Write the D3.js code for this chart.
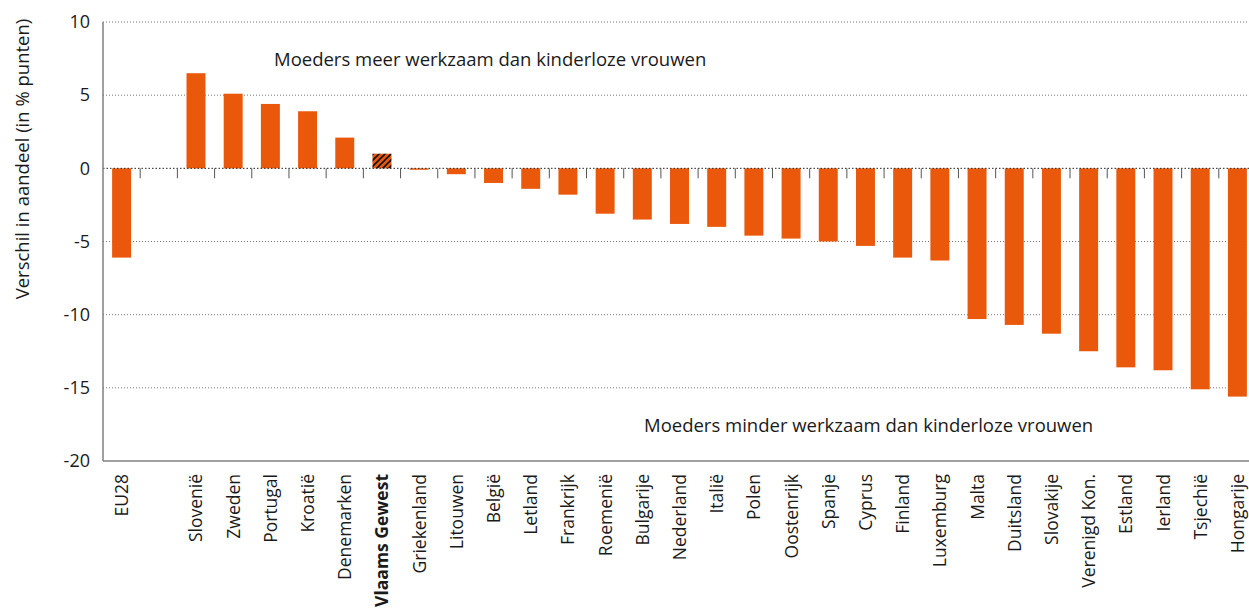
<!DOCTYPE html>
<html>
<head>
<meta charset="utf-8">
<script src="https://cdn.jsdelivr.net/npm/d3@7"></script>
<style>
  body { margin: 0; background: #fff; }
  text { font-family: "Open Sans", "DejaVu Sans", sans-serif; fill: #1a1a1a; }
</style>
</head>
<body>
<div id="chart"></div>
<script>
// categories (blank slot after EU28)
const categories = ["EU28", " ", "Slovenië", "Zweden", "Portugal", "Kroatië", "Denemarken", "Vlaams Gewest",
  "Griekenland", "Litouwen", "België", "Letland", "Frankrijk", "Roemenië", "Bulgarije", "Nederland",
  "Italië", "Polen", "Oostenrijk", "Spanje", "Cyprus", "Finland", "Luxemburg", "Malta", "Duitsland",
  "Slovakije", "Verenigd Kon.", "Estland", "Ierland", "Tsjechië", "Hongarije"];
const values = [-6.1, null, 6.5, 5.1, 4.4, 3.9, 2.1, 1.0,
  -0.1, -0.4, -1.0, -1.4, -1.8, -3.1, -3.5, -3.8,
  -4.0, -4.6, -4.8, -5.0, -5.3, -6.1, -6.3, -10.3, -10.7,
  -11.3, -12.5, -13.6, -13.8, -15.1, -15.6];
const yTicks = [10, 5, 0, -5, -10, -15, -20];
const highlight = "Vlaams Gewest";

const width = 1249, height = 608;
const margin = {top: 22, left: 103, bottom: 147, right: -7};
const iwidth = width - margin.left - margin.right;
const iheight = height - margin.top - margin.bottom;
const barColor = "#EA580C";

const svg = d3.select("#chart").append("svg")
  .attr("width", width).attr("height", height);

const defs = svg.append("defs");
const pat = defs.append("pattern").attr("id", "hatch")
  .attr("patternUnits", "userSpaceOnUse").attr("width", 6).attr("height", 6);
pat.append("rect").attr("width", 6).attr("height", 6).attr("fill", barColor);
pat.append("path").attr("d", "M-1,1 l2,-2 M0,6 l6,-6 M5,7 l2,-2")
  .attr("stroke", "#111").attr("stroke-width", 1.6);

const g = svg.append("g").attr("transform", `translate(${margin.left},${margin.top})`);

const y = d3.scaleLinear().domain([-20, 10]).range([iheight, 0]);
const x = d3.scaleBand().domain(categories).range([0, iwidth]).paddingInner(0.49).paddingOuter(0.245);

// gridlines
g.selectAll(".grid").data(yTicks.filter(d => d !== -20 && d !== 0)).enter().append("line")
  .attr("x1", 0).attr("x2", iwidth)
  .attr("y1", d => y(d)).attr("y2", d => y(d))
  .attr("stroke", "#777").attr("stroke-width", 1).attr("stroke-dasharray", "1,2");

// bars
g.selectAll("rect.bar").data(categories.map((c, i) => ({c, v: values[i]})).filter(d => d.v !== null))
  .enter().append("rect")
  .attr("class", "bar")
  .attr("x", d => x(d.c))
  .attr("width", x.bandwidth())
  .attr("y", d => y(Math.max(0, d.v)))
  .attr("height", d => Math.abs(y(d.v) - y(0)))
  .attr("fill", d => d.c === highlight ? "url(#hatch)" : barColor);

// zero line
g.append("line").attr("x1", 0).attr("x2", iwidth).attr("y1", y(0)).attr("y2", y(0))
  .attr("stroke", "#222").attr("stroke-width", 1).attr("stroke-dasharray", "1.5,2");

// category boundary ticks at zero
const step = x.step();
g.selectAll(".ctick").data(d3.range(1, categories.length)).enter().append("line")
  .attr("x1", d => d * step).attr("x2", d => d * step)
  .attr("y1", y(0)).attr("y2", y(0) + 10)
  .attr("stroke", "#555").attr("stroke-width", 1);

// axes frame
g.append("line").attr("x1", 0).attr("x2", 0).attr("y1", 0).attr("y2", iheight)
  .attr("stroke", "#808080").attr("stroke-width", 1.5);
g.append("line").attr("x1", 0).attr("x2", iwidth).attr("y1", iheight).attr("y2", iheight)
  .attr("stroke", "#808080").attr("stroke-width", 1.5);

// y tick labels
g.selectAll(".ylab").data(yTicks).enter().append("text")
  .attr("x", -13).attr("y", d => y(d)).attr("dy", "0.35em")
  .attr("text-anchor", "end").style("font-size", "18px")
  .text(d => d);

// x labels
g.selectAll(".xlab").data(categories).enter().append("text")
  .attr("transform", d => `translate(${x(d) + x.bandwidth() / 2 + 6.5},${iheight + 13}) rotate(-90)`)
  .attr("text-anchor", "end")
  .style("font-size", "17.5px")
  .style("font-weight", d => d === highlight ? "bold" : "normal")
  .text(d => d.trim());

// y axis title
svg.append("text")
  .attr("transform", `translate(29,${margin.top + 137}) rotate(-90)`)
  .attr("text-anchor", "middle").style("font-size", "18.5px")
  .text("Verschil in aandeel (in % punten)");

// annotations
svg.append("text").attr("x", 274).attr("y", 66).style("font-size", "18.5px")
  .text("Moeders meer werkzaam dan kinderloze vrouwen");
svg.append("text").attr("x", 644).attr("y", 432).style("font-size", "18.5px")
  .text("Moeders minder werkzaam dan kinderloze vrouwen");
</script>
</body>
</html>
